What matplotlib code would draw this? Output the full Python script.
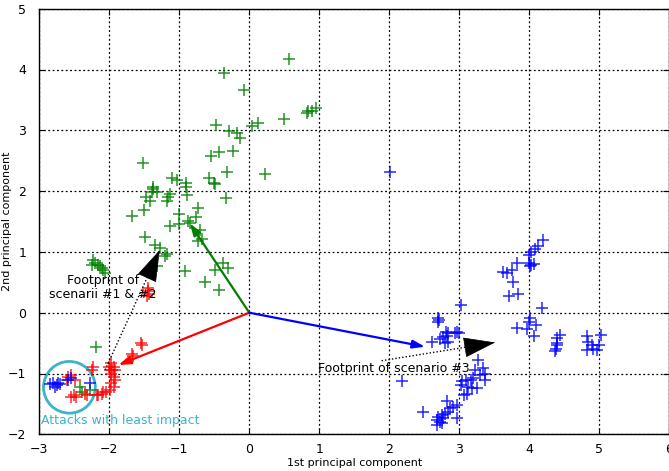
import matplotlib
matplotlib.use("Agg")
import matplotlib.pyplot as plt
from matplotlib.patches import Ellipse

green_pts = [(0.57,4.18),(-0.36,3.95),(-0.08,3.67),(0.82,3.28),(0.84,3.32),(0.89,3.31),(0.95,3.36),
             (0.50,3.18),(-0.48,3.09),(-0.29,2.99),(-0.18,2.95),(-0.13,2.87),(0.04,3.07),(0.13,3.12),
             (-1.52,2.47),(-0.55,2.58),(-0.44,2.64),(-0.24,2.66),(-0.32,2.31),(0.23,2.28),(-1.11,2.21),
             (-1.04,2.18),(-0.91,2.14),(-0.57,2.21),(-0.49,2.11),(-1.37,2.06),(-0.90,2.06),(-0.51,2.13),
             (-1.38,2.03),(-1.32,1.99),(-1.39,1.99),(-1.13,1.96),(-1.16,1.91),(-0.89,1.94),(-0.33,1.89),
             (-1.47,1.91),(-1.42,1.83),(-1.17,1.83),(-1.50,1.69),(-1.68,1.59),(-1.00,1.63),(-0.74,1.72),
             (-0.76,1.58),(-0.87,1.51),(-0.85,1.47),(-1.13,1.43),(-1.01,1.46),(-0.70,1.36),(-0.68,1.22),
             (-0.73,1.18),(-1.49,1.24),(-1.35,1.11),(-1.28,1.06),(-1.18,0.97),(-1.20,0.93),(-1.32,0.76),
             (-0.92,0.69),(-0.49,0.71),(-0.37,0.81),(-0.30,0.73),(-0.64,0.51),(-0.44,0.38),(-2.23,0.87),
             (-2.20,0.81),(-2.16,0.78),(-2.13,0.76),(-2.09,0.70),(-2.06,0.65),(-2.25,0.79),(-2.11,0.73),
             (-2.19,-0.57),(-2.42,-1.23),(-2.28,-1.27),(-2.39,-1.30)]
red_pts = [(-1.45,0.40),(-1.45,0.35),(-1.44,0.30),(-1.46,0.27),(-1.55,-0.50),(-1.53,-0.53),(-1.67,-0.68),
           (-1.66,-0.71),(-2.23,-0.90),(-2.25,-0.94),(-1.97,-0.83),(-1.94,-0.89),(-1.99,-0.94),(-1.92,-0.94),
           (-1.97,-1.00),(-1.94,-1.05),(-1.92,-1.11),(-1.97,-1.16),(-1.94,-1.22),(-1.99,-1.27),(-2.04,-1.30),
           (-2.11,-1.33),(-2.18,-1.35),(-2.59,-1.05),(-2.54,-1.02),(-2.49,-1.11),(-2.61,-1.11),(-2.51,-1.35),
           (-2.47,-1.38),(-2.54,-1.38),(-2.35,-1.33),(-2.32,-1.35),(-2.16,-1.35),(-2.09,-1.30),(-2.00,-0.90),
           (-1.96,-0.95)]
blue_pts = [(-2.85,-1.17),(-2.80,-1.16),(-2.75,-1.19),(-2.70,-1.17),(-2.78,-1.22),(-2.73,-1.15),(-2.59,-1.10),
            (-2.55,-1.08),(-2.28,-1.16),(2.01,2.31),(4.20,1.20),(4.13,1.09),(4.08,1.05),(4.03,1.00),(3.99,0.95),
            (3.99,0.81),(4.03,0.78),(4.01,0.76),(4.06,0.80),(3.83,0.81),(3.63,0.67),(3.68,0.65),(3.75,0.70),
            (3.76,0.51),(3.71,0.27),(3.84,0.30),(4.18,0.08),(4.01,-0.08),(3.99,-0.15),(3.83,-0.25),(3.96,-0.27),
            (4.10,-0.21),(4.07,-0.39),(4.44,-0.36),(4.40,-0.42),(4.39,-0.50),(4.40,-0.53),(4.38,-0.60),(4.37,-0.63),
            (4.82,-0.39),(4.84,-0.48),(4.89,-0.53),(4.99,-0.53),(4.91,-0.59),(5.03,-0.36),(4.82,-0.61),(4.96,-0.61),
            (3.03,0.13),(2.69,-0.09),(2.70,-0.15),(2.71,-0.12),(2.81,-0.31),(2.84,-0.34),(2.94,-0.34),(2.96,-0.31),
            (2.99,-0.34),(2.61,-0.48),(2.72,-0.44),(2.76,-0.40),(2.80,-0.50),(2.84,-0.49),(2.82,-0.38),(2.18,-1.13),
            (3.27,-0.78),(3.34,-0.91),(3.23,-0.94),(3.30,-1.03),(3.37,-1.00),(3.37,-1.11),(3.20,-1.08),(3.16,-1.11),
            (3.09,-1.11),(3.04,-1.13),(3.02,-1.19),(3.13,-1.22),(3.25,-1.24),(3.18,-1.24),(3.11,-1.33),(3.06,-1.35),
            (2.96,-1.52),(2.91,-1.55),(2.87,-1.57),(2.82,-1.46),(2.84,-1.63),(2.80,-1.66),(2.75,-1.68),(2.77,-1.74),
            (2.70,-1.71),(2.68,-1.76),(2.73,-1.79),(2.68,-1.85),(2.75,-1.82),(2.96,-1.74),(2.48,-1.64)]

# loading vectors (end points, start at origin)
vec_green = (-0.85, 1.47)
vec_red = (-1.87, -0.86)
vec_blue = (2.51, -0.56)

# footprint arrows: (start, end)
fp12 = ((-2.06, -0.94), (-1.28, 1.03))
fp3 = ((1.89, -0.79), (3.51, -0.49))

GREEN = '#008000'
RED = '#ff0000'
BLUE = '#0000ff'
CYAN = '#3ab4c8'

fig = plt.figure(figsize=(6.69, 4.71), dpi=100)
ax = fig.add_axes([39.3/669, 36.7/471, 630/669, 425.6/471])
ax.set_xlim(-3, 6)
ax.set_ylim(-2, 5)
ax.set_xticks(range(-3, 7))
ax.set_yticks(range(-2, 6))
ax.grid(True, color='black', linestyle=(0, (1.5, 2)), linewidth=0.9)
ax.tick_params(direction='in', top=True, right=True, labelsize=9, length=4)
ax.tick_params(axis='x', pad=6)
ax.tick_params(axis='y', pad=9.5)
for s in ax.spines.values():
    s.set_linewidth(1.0)

ms = 9
for pts, c in ((green_pts, GREEN), (red_pts, RED), (blue_pts, BLUE)):
    ax.plot([p[0] for p in pts], [p[1] for p in pts], '+', color=c, ms=ms, mew=1.1, alpha=0.85)

for v, c in ((vec_green, GREEN), (vec_red, RED), (vec_blue, BLUE)):
    ax.annotate('', xy=v, xytext=(0, 0),
                arrowprops=dict(arrowstyle='-|>,head_length=0.6,head_width=0.2', color=c, lw=1.6,
                                shrinkA=0, shrinkB=0, mutation_scale=12))

for (s, e) in (fp12, fp3):
    ax.plot([s[0], e[0]], [s[1], e[1]], color='black', linestyle=(0, (1, 1.5)), lw=1.0)
    dx, dy = e[0] - s[0], e[1] - s[1]
    ax.annotate('', xy=e, xytext=(e[0] - 0.08*dx, e[1] - 0.08*dy),
                arrowprops=dict(arrowstyle='-|>,head_length=1.4,head_width=0.45', color='black', lw=0.5,
                                shrinkA=0, shrinkB=0, mutation_scale=15))

ax.text(-2.09, 0.41, 'Footprint of\nscenarii #1 & #2', ha='center', va='center', fontsize=9,
        linespacing=1.1)
ax.text(0.98, -0.91, 'Footprint of scenario #3', ha='left', va='center', fontsize=9)

circ = Ellipse((-2.57, -1.227), width=0.74, height=0.85, fill=False, edgecolor=CYAN, lw=2)
ax.add_patch(circ)
ax.text(-2.97, -1.78, 'Attacks with least impact', color=CYAN, fontsize=9, ha='left', va='center')

ax.set_xlabel('1st principal component', fontsize=8, labelpad=2)
ax.set_ylabel('2nd principal component', fontsize=8)
ax.yaxis.set_label_coords(-0.043, 0.5)

fig.savefig('out.png', dpi=100)
